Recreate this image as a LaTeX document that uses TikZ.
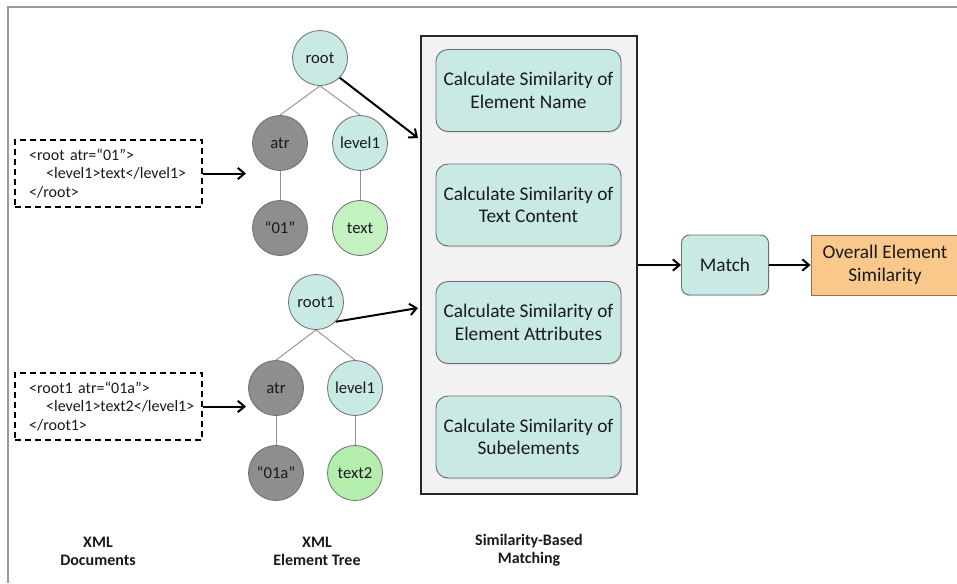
\documentclass[tikz,border=0pt]{standalone}
\usepackage{fontspec}
\setmainfont{Carlito}
\usetikzlibrary{arrows.meta,shadows}
\definecolor{cyanfill}{HTML}{C9EAE4}
\definecolor{grayfill}{HTML}{8E8E8E}
\definecolor{greenA}{HTML}{C4F1C0}
\definecolor{greenB}{HTML}{B3EEAD}
\definecolor{orangefill}{HTML}{F9C88A}
\definecolor{orangeedge}{HTML}{8A7456}
\definecolor{panelfill}{HTML}{F2F2F2}
\definecolor{edgegray}{HTML}{6E6E6E}
\definecolor{txt}{HTML}{1A1A1A}
\tikzset{
  frameline/.style={draw=gray!80, line width=1.1pt},
  tnode/.style={circle, draw=edgegray, line width=0.6pt, minimum size=41.25pt, inner sep=0pt,
    font=\fontsize{12.5}{14}\selectfont, text=txt},
  cnode/.style={tnode, fill=cyanfill},
  gnode/.style={tnode, fill=grayfill},
  treeedge/.style={draw=gray!85, line width=0.7pt},
  docbox/.style={draw=black, dashed, dash pattern=on 4.5pt off 3pt, line width=1.1pt,
    minimum width=140.25pt, minimum height=50.25pt, inner sep=0pt, align=left,
    text width=119pt, font=\fontsize{12}{14}\selectfont, text=txt},
  panel/.style={draw=black!85, line width=1.4pt, fill=panelfill, inner sep=0pt},
  calcbox/.style={rounded corners=9pt, draw=edgegray, line width=0.7pt, fill=cyanfill,
    minimum width=138.75pt, minimum height=61.5pt, inner sep=0pt, align=center,
    font=\fontsize{14.5}{17}\selectfont, text=txt,
    drop shadow={shadow xshift=0.8pt, shadow yshift=-0.8pt, opacity=0.25}},
  matchbox/.style={calcbox, rounded corners=6pt, minimum width=65.25pt, minimum height=45pt},
  overallbox/.style={draw=orangeedge, line width=0.7pt, fill=orangefill,
    minimum width=111pt, minimum height=45pt, inner sep=0pt, align=center,
    font=\fontsize{14.5}{17}\selectfont, text=txt},
  caption/.style={align=center, font=\bfseries\fontsize{12}{13.5}\selectfont, text=txt},
  arr/.style={line width=1.5pt, -{Straight Barb[length=5pt,width=8.5pt]}}
}
\begin{document}
\begin{tikzpicture}[x=0.75pt,y=-0.75pt]
\useasboundingbox (0,0) rectangle (957,583);
\fill[white] (0,0) rectangle (957,583);
\draw[frameline] (8,583) -- (8,7) -- (957,7);

% XML documents
\node[docbox] (doc1) at (108.5,173.5) {<root atr=“01”>\\\hspace*{12.75pt}<level1>text</level1>\\</root>};
\node[docbox] (doc2) at (108.5,406.5) {<root1 atr=“01a”>\\\hspace*{12.75pt}<level1>text2</level1>\\</root1>};

% tree 1
\node[cnode] (root) at (320,58) {root};
\node[gnode] (atrA) at (280,143) {atr};
\node[cnode] (levA) at (360,143) {level1};
\node[gnode] (valA) at (280,228) {“01”};
\node[tnode, fill=greenA] (txtA) at (360,228) {text};
\draw[treeedge] (root.south) -- (atrA.north);
\draw[treeedge] (root.south) -- (levA.north);
\draw[treeedge] (atrA.south) -- (valA.north);
\draw[treeedge] (levA.south) -- (txtA.north);

% tree 2
\node[cnode] (rootB) at (316,302) {root1};
\node[gnode] (atrB) at (276,388) {atr};
\node[cnode] (levB) at (355,388) {level1};
\node[gnode] (valB) at (276,473) {“01a”};
\node[tnode, fill=greenB] (txtB) at (355,473) {text2};
\draw[treeedge] (rootB.south) -- (atrB.north);
\draw[treeedge] (rootB.south) -- (levB.north);
\draw[treeedge] (atrB.south) -- (valB.north);
\draw[treeedge] (levB.south) -- (txtB.north);

% panel
\node[panel, minimum width=162pt, minimum height=343.5pt] (panel) at (529,265) {};
\node[calcbox] (c1) at (528.5,90.5) {Calculate Similarity of\\Element Name};
\node[calcbox] (c2) at (528.5,205) {Calculate Similarity of\\Text Content};
\node[calcbox] (c3) at (528.5,322.5) {Calculate Similarity of\\Element Attributes};
\node[calcbox] (c4) at (528.5,437) {Calculate Similarity of\\Subelements};

\node[matchbox] (match) at (725,265) {Match};
\node[overallbox] (overall) at (885,265) {Overall Element\\Similarity};

% arrows
\coordinate (t1) at (246,173.5);
\coordinate (t2) at (246,406.5);
\coordinate (in1) at (418,138);
\coordinate (in2) at (418,308);
\draw[arr] (doc1.east) -- (t1);
\draw[arr] (doc2.east) -- (t2);
\draw[arr] (root.south east) -- (in1);
\draw[arr] (rootB.south east) -- (in2);
\draw[arr] (match.west -| panel.east) -- (match.west);
\draw[arr] (match.east) -- (overall.west);

% captions
\node[caption] (cap1) at (98,551) {XML\\Documents};
\node[caption] (cap2) at (317,551) {XML\\Element Tree};
\node[caption] (cap3) at (529,550) {Similarity-Based\\Matching};
\end{tikzpicture}
\end{document}
